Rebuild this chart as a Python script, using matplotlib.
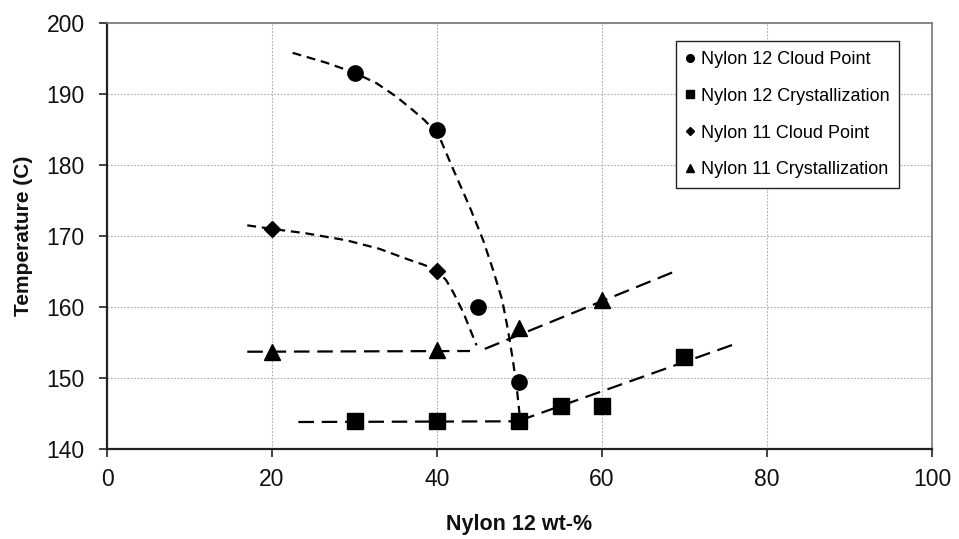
import matplotlib
matplotlib.use('Agg')
import matplotlib.pyplot as plt

plt.rcParams['font.family'] = ['Liberation Sans', 'DejaVu Sans']

# measured points
n12_cloud_x = [30, 40, 45, 50]
n12_cloud_y = [193, 185, 160, 149.5]
n12_cryst_x = [30, 40, 50, 55, 60, 70]
n12_cryst_y = [144, 144, 144, 146, 146, 153]
n11_cloud_x = [20, 40]
n11_cloud_y = [171, 165]
n11_cryst_x = [20, 40, 50, 60]
n11_cryst_y = [153.7, 154, 157, 161]

# trend curves
n12_cloud_fit_x = [22.5, 26.6, 30, 32.7, 35.1, 37.1, 38.5, 40.2, 42, 44, 45.6,
                   46.8, 47.9, 48.6, 49.2, 49.7, 50]
n12_cloud_fit_y = [195.8, 194.4, 193, 191.5, 189.6, 187.7, 186.3, 184.2, 179.3,
                   174, 169.4, 165.2, 161, 156.8, 152.5, 148.3, 145]
n11_cloud_fit_x = [17, 20, 24, 29, 33, 36.5, 38.5, 40, 41.1, 42, 43.2, 44.2, 44.8]
n11_cloud_fit_y = [171.5, 171, 170.4, 169.4, 168.2, 166.7, 165.9, 165.1, 163.8,
                   162, 159.2, 156.3, 154.6]
n11_cryst_fit1_x = [17, 44]
n11_cryst_fit1_y = [153.7, 153.8]
n11_cryst_fit2_x = [45.8, 68.6]
n11_cryst_fit2_y = [154.1, 164.9]
n12_cryst_fit1_x = [23.2, 50]
n12_cryst_fit1_y = [143.8, 143.9]
n12_cryst_fit2_x = [50, 76.4]
n12_cryst_fit2_y = [144, 154.9]

labels = ['Nylon 12 Cloud Point', 'Nylon 12 Crystallization',
          'Nylon 11 Cloud Point', 'Nylon 11 Crystallization']

fig = plt.figure(figsize=(9.59, 5.39), dpi=100)
ax = fig.add_axes([0.1116, 0.167, 0.8602, 0.7903])

short_dash = (0, (4, 2.6))
long_dash = (0, (7, 3.5))
lw = 1.6
ax.plot(n12_cloud_fit_x, n12_cloud_fit_y, color='black', lw=lw, ls=short_dash, zorder=2)
ax.plot(n11_cloud_fit_x, n11_cloud_fit_y, color='black', lw=lw, ls=short_dash, zorder=2)
ax.plot(n11_cryst_fit1_x, n11_cryst_fit1_y, color='black', lw=lw, ls=long_dash, zorder=2)
ax.plot(n11_cryst_fit2_x, n11_cryst_fit2_y, color='black', lw=lw, ls=long_dash, zorder=2)
ax.plot(n12_cryst_fit1_x, n12_cryst_fit1_y, color='black', lw=lw, ls=long_dash, zorder=2)
ax.plot(n12_cryst_fit2_x, n12_cryst_fit2_y, color='black', lw=lw, ls=long_dash, zorder=2)

h1, = ax.plot(n12_cloud_x, n12_cloud_y, 'o', color='black', ms=11, ls='none', zorder=3)
h2, = ax.plot(n12_cryst_x, n12_cryst_y, 's', color='black', ms=11, ls='none', zorder=3)
h3, = ax.plot(n11_cloud_x, n11_cloud_y, 'D', color='black', ms=8.5, ls='none', zorder=3)
h4, = ax.plot(n11_cryst_x, n11_cryst_y, '^', color='black', ms=12, ls='none', zorder=3)

ax.set_xlim(0, 100)
ax.set_ylim(140, 200)
ax.set_xticks([0, 20, 40, 60, 80, 100])
ax.set_yticks([140, 150, 160, 170, 180, 190, 200])
ax.grid(True, color='#aaaaaa', ls=(0, (1.5, 1.5)), lw=0.8)
ax.set_axisbelow(True)

for s in ['top', 'right']:
    ax.spines[s].set_color('#777777')
    ax.spines[s].set_linewidth(1.2)
for s in ['left', 'bottom']:
    ax.spines[s].set_color('#222222')
    ax.spines[s].set_linewidth(1.6)

ax.tick_params(axis='both', direction='out', length=6, width=1.2, colors='#222222',
               labelsize=16.5, labelcolor='#111111')
ax.tick_params(axis='x', pad=8)
ax.tick_params(axis='y', pad=10)

ax.set_xlabel('Nylon 12 wt-%', fontsize=15.5, fontweight='bold', labelpad=16, color='#111111')
ax.set_ylabel('Temperature (C)', fontsize=15, fontweight='bold', labelpad=10, color='#111111')

leg = ax.legend([h1, h2, h3, h4], labels, loc='upper right',
                bbox_to_anchor=(0.9605, 0.958), fontsize=13, frameon=True,
                fancybox=False, edgecolor='#222222', framealpha=1,
                markerscale=0.5, handlelength=0.5, handletextpad=0.35,
                labelspacing=1.1, borderpad=0.55, borderaxespad=0)
leg.get_frame().set_linewidth(1.0)

fig.savefig('out.png', dpi=100)
